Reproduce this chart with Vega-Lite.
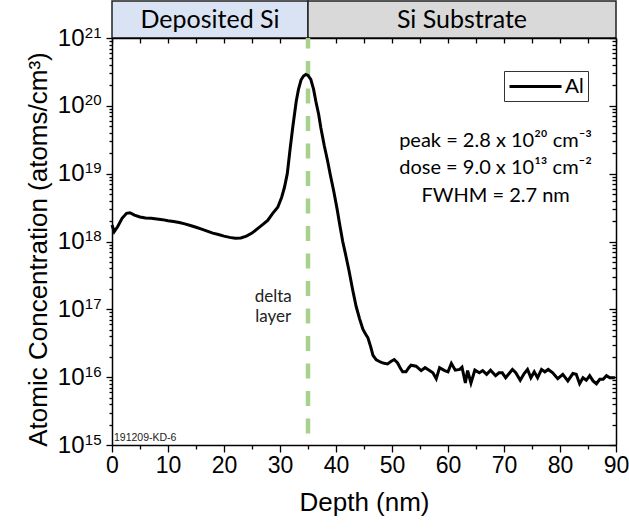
{
  "$schema": "https://vega.github.io/schema/vega-lite/v6.json",
  "background": "white",
  "padding": {"left": 25, "top": 0, "right": 5, "bottom": 5},
  "spacing": 0,
  "bounds": "flush",
  "resolve": {"scale": {"color": "independent"}, "legend": {"color": "independent"}},
  "config": {
    "view": {"stroke": null},
    "font": "Arial, Liberation Sans, sans-serif",
    "axis": {"domainColor": "black", "tickColor": "black", "labelColor": "black", "titleColor": "black", "domainWidth": 1.5, "tickWidth": 1.3, "grid": false, "labelFont": "Arial, Liberation Sans, sans-serif", "titleFont": "Arial, Liberation Sans, sans-serif", "titleFontWeight": "normal"}
  },
  "vconcat": [
    {
      "width": 504,
      "height": 37,
      "data": {"values": [
        {"region": "Deposited Si", "start": 0, "end": 35, "mid": 17.5},
        {"region": "Si Substrate", "start": 35, "end": 90, "mid": 62.5}
      ]},
      "layer": [
        {
          "mark": {"type": "rect", "stroke": "#222", "strokeWidth": 1.5},
          "encoding": {
            "x": {"field": "start", "type": "quantitative", "scale": {"domain": [0, 90], "nice": false}, "axis": null},
            "x2": {"field": "end"},
            "color": {"field": "region", "type": "nominal", "scale": {"domain": ["Deposited Si", "Si Substrate"], "range": ["#dae3f3", "#d9d9d9"]}, "legend": null}
          }
        },
        {
          "mark": {"type": "text", "font": "Lato", "fontSize": 25, "color": "black"},
          "encoding": {
            "x": {"field": "mid", "type": "quantitative", "scale": {"domain": [0, 90], "nice": false}, "axis": null},
            "text": {"field": "region"}
          }
        }
      ]
    },
    {
      "width": 504,
      "height": 407,
      "resolve": {"axis": {"x": "independent", "y": "independent"}},
      "layer": [
        {
          "data": {"values": [{"depth": 35}]},
          "mark": {"type": "rule", "color": "#a9d18e", "strokeWidth": 4.5, "strokeDash": [15, 12.5], "strokeDashOffset": 4.5},
          "encoding": {
            "x": {"field": "depth", "type": "quantitative", "scale": {"domain": [0, 90], "nice": false},
              "axis": {"orient": "top", "values": [0,5,10,15,20,25,30,35,40,45,50,55,60,65,70,75,80,85,90], "labels": false, "tickSize": -5, "title": null}}
          }
        },
        {
          "data": {"values": [
            {"depth": 0.0, "conc": 1.75e18}, {"depth": 0.4, "conc": 1.4e18}, {"depth": 1.0, "conc": 1.65e18},
            {"depth": 1.8, "conc": 2.2e18}, {"depth": 2.6, "conc": 2.6e18}, {"depth": 3.2, "conc": 2.65e18},
            {"depth": 4.0, "conc": 2.45e18}, {"depth": 5.0, "conc": 2.3e18}, {"depth": 6.0, "conc": 2.22e18},
            {"depth": 7.0, "conc": 2.2e18}, {"depth": 8.0, "conc": 2.15e18}, {"depth": 9.0, "conc": 2.1e18},
            {"depth": 10.0, "conc": 2.02e18}, {"depth": 11.0, "conc": 1.97e18}, {"depth": 12.0, "conc": 1.9e18},
            {"depth": 13.0, "conc": 1.82e18}, {"depth": 14.0, "conc": 1.72e18}, {"depth": 15.0, "conc": 1.62e18},
            {"depth": 16.0, "conc": 1.52e18}, {"depth": 17.0, "conc": 1.42e18}, {"depth": 18.0, "conc": 1.33e18},
            {"depth": 19.0, "conc": 1.27e18}, {"depth": 20.0, "conc": 1.2e18}, {"depth": 21.0, "conc": 1.15e18},
            {"depth": 22.0, "conc": 1.12e18}, {"depth": 23.0, "conc": 1.13e18}, {"depth": 24.0, "conc": 1.2e18},
            {"depth": 25.0, "conc": 1.33e18}, {"depth": 26.0, "conc": 1.55e18}, {"depth": 27.0, "conc": 1.8e18},
            {"depth": 27.8, "conc": 2.05e18}, {"depth": 28.7, "conc": 2.6e18}, {"depth": 29.6, "conc": 3.2e18},
            {"depth": 30.3, "conc": 4.5e18}, {"depth": 30.8, "conc": 6.3e18}, {"depth": 31.3, "conc": 1.0e19},
            {"depth": 31.8, "conc": 2.3e19}, {"depth": 32.3, "conc": 5.0e19}, {"depth": 32.9, "conc": 1.17e20},
            {"depth": 33.3, "conc": 1.75e20}, {"depth": 33.75, "conc": 2.4e20}, {"depth": 34.2, "conc": 2.75e20},
            {"depth": 34.6, "conc": 2.9e20}, {"depth": 35.0, "conc": 2.8e20}, {"depth": 35.5, "conc": 2.45e20},
            {"depth": 36.0, "conc": 1.75e20}, {"depth": 36.4, "conc": 1.17e20}, {"depth": 36.9, "conc": 7.5e19},
            {"depth": 37.3, "conc": 4.7e19}, {"depth": 37.9, "conc": 2.6e19}, {"depth": 38.5, "conc": 1.54e19},
            {"depth": 39.0, "conc": 9.5e18}, {"depth": 39.6, "conc": 5.5e18}, {"depth": 40.2, "conc": 3.0e18},
            {"depth": 40.7, "conc": 1.7e18}, {"depth": 41.2, "conc": 1.0e18}, {"depth": 41.7, "conc": 6.5e17},
            {"depth": 42.3, "conc": 3.8e17}, {"depth": 43.0, "conc": 1.9e17}, {"depth": 43.6, "conc": 1.1e17},
            {"depth": 44.2, "conc": 7.3e16}, {"depth": 44.8, "conc": 5.1e16}, {"depth": 45.3, "conc": 4.3e16},
            {"depth": 45.7, "conc": 3.8e16}, {"depth": 46.2, "conc": 2.8e16}, {"depth": 46.6, "conc": 2.1e16},
            {"depth": 47.2, "conc": 1.8e16}, {"depth": 48.0, "conc": 1.66e16}, {"depth": 48.6, "conc": 1.6e16},
            {"depth": 49.2, "conc": 1.57e16}, {"depth": 49.8, "conc": 1.7e16}, {"depth": 50.4, "conc": 1.82e16},
            {"depth": 51.0, "conc": 1.62e16}, {"depth": 51.5, "conc": 1.35e16}, {"depth": 51.9, "conc": 1.2e16},
            {"depth": 52.5, "conc": 1.2e16}, {"depth": 53.0, "conc": 1.38e16}, {"depth": 53.4, "conc": 1.5e16},
            {"depth": 54.3, "conc": 1.45e16}, {"depth": 55.2, "conc": 1.25e16}, {"depth": 55.9, "conc": 1.38e16},
            {"depth": 56.7, "conc": 1.25e16}, {"depth": 57.3, "conc": 1.16e16}, {"depth": 57.9, "conc": 0.95e16},
            {"depth": 58.5, "conc": 1.38e16}, {"depth": 59.4, "conc": 1.25e16}, {"depth": 60.0, "conc": 1.2e16},
            {"depth": 60.6, "conc": 1.6e16}, {"depth": 61.3, "conc": 1.27e16}, {"depth": 62.1, "conc": 1.3e16},
            {"depth": 62.5, "conc": 1.4e16}, {"depth": 63.1, "conc": 0.82e16}, {"depth": 63.5, "conc": 1.25e16},
            {"depth": 64.1, "conc": 0.82e16}, {"depth": 64.8, "conc": 1.27e16}, {"depth": 65.6, "conc": 1.16e16},
            {"depth": 66.2, "conc": 1.25e16}, {"depth": 66.9, "conc": 1.1e16}, {"depth": 67.6, "conc": 1.27e16},
            {"depth": 68.5, "conc": 1.05e16}, {"depth": 69.1, "conc": 1.16e16}, {"depth": 69.7, "conc": 1.16e16},
            {"depth": 70.3, "conc": 0.98e16}, {"depth": 71.5, "conc": 1.3e16}, {"depth": 72.1, "conc": 1.16e16},
            {"depth": 72.9, "conc": 0.9e16}, {"depth": 73.6, "conc": 1.13e16}, {"depth": 74.2, "conc": 1.3e16},
            {"depth": 74.8, "conc": 0.98e16}, {"depth": 75.4, "conc": 1.2e16}, {"depth": 76.0, "conc": 0.98e16},
            {"depth": 76.7, "conc": 1.3e16}, {"depth": 77.3, "conc": 1.2e16}, {"depth": 77.9, "conc": 1.3e16},
            {"depth": 78.7, "conc": 1.16e16}, {"depth": 79.6, "conc": 0.95e16}, {"depth": 80.5, "conc": 1.1e16},
            {"depth": 81.4, "conc": 0.88e16}, {"depth": 82.3, "conc": 1.13e16}, {"depth": 82.9, "conc": 1.1e16},
            {"depth": 83.5, "conc": 0.8e16}, {"depth": 84.1, "conc": 0.98e16}, {"depth": 84.7, "conc": 0.9e16},
            {"depth": 85.3, "conc": 1.05e16}, {"depth": 85.9, "conc": 0.88e16}, {"depth": 86.5, "conc": 0.8e16},
            {"depth": 87.1, "conc": 0.93e16}, {"depth": 87.7, "conc": 0.93e16}, {"depth": 88.3, "conc": 1.05e16},
            {"depth": 88.9, "conc": 0.98e16}, {"depth": 89.8, "conc": 0.98e16}
          ]},
          "mark": {"type": "line", "strokeWidth": 3},
          "encoding": {
            "x": {"field": "depth", "type": "quantitative", "scale": {"domain": [0, 90], "nice": false},
              "axis": {"orient": "bottom", "values": [0,5,10,15,20,25,30,35,40,45,50,55,60,65,70,75,80,85,90],
                "labelExpr": "datum.value % 10 === 0 ? datum.label : ''",
                "tickSize": {"condition": {"test": "datum.value % 10 === 0", "value": 7}, "value": 4},
                "labelFontSize": 23, "labelPadding": 2, "labelFlush": false, "labelOverlap": false, "labelBound": false,
                "title": "Depth (nm)", "titleFontSize": 26, "titlePadding": 12}},
            "y": {"field": "conc", "type": "quantitative", "scale": {"type": "log", "domain": [1e15, 1e21], "nice": false},
              "axis": {"orient": "left",
                "values": [1e15,2e15,3e15,4e15,5e15,6e15,7e15,8e15,9e15,1e16,2e16,3e16,4e16,5e16,6e16,7e16,8e16,9e16,1e17,2e17,3e17,4e17,5e17,6e17,7e17,8e17,9e17,1e18,2e18,3e18,4e18,5e18,6e18,7e18,8e18,9e18,1e19,2e19,3e19,4e19,5e19,6e19,7e19,8e19,9e19,1e20,2e20,3e20,4e20,5e20,6e20,7e20,8e20,9e20,1e21],
                "labelExpr": "abs(log(datum.value)/LN10 - round(log(datum.value)/LN10)) < 0.001 ? '10' : ''",
                "tickSize": {"condition": {"test": "abs(log(datum.value)/LN10 - round(log(datum.value)/LN10)) < 0.001", "value": 6}, "value": 3},
                "labelFontSize": 24, "labelPadding": 22, "labelFlush": false, "labelOverlap": false, "labelBound": false,
                "title": "Atomic Concentration (atoms/cm³)", "titleFontSize": 26, "titlePadding": 6, "titleY": 211}},
            "color": {"datum": "Al", "type": "nominal", "scale": {"domain": ["Al"], "range": ["black"]},
              "legend": {"orient": "none", "legendX": 392, "legendY": 33, "title": null, "strokeColor": "#333", "fillColor": "white",
                "padding": 4, "symbolType": "M-2.6,0H2.6", "symbolSize": 400, "symbolStrokeWidth": 3, "symbolOffset": 16,
                "labelFontSize": 21, "labelFont": "Arial, Liberation Sans, sans-serif", "labelColor": "black", "labelOffset": 18}}
          }
        },
        {
          "data": {"values": [
            {"label": "peak = 2.8 x 10²⁰ cm⁻³", "depth": 68.5, "conc": 3.03e19},
            {"label": "dose = 9.0 x 10¹³ cm⁻²", "depth": 68.5, "conc": 1.21e19},
            {"label": "FWHM = 2.7 nm", "depth": 68.5, "conc": 4.69e18}
          ]},
          "mark": {"type": "text", "font": "Lato", "fontSize": 20, "color": "black", "align": "center", "baseline": "middle"},
          "encoding": {
            "x": {"field": "depth", "type": "quantitative", "scale": {"domain": [0, 90], "nice": false}, "axis": null},
            "y": {"field": "conc", "type": "quantitative", "scale": {"type": "log", "domain": [1e15, 1e21], "nice": false},
              "axis": {"orient": "right",
                "values": [1e15,2e15,3e15,4e15,5e15,6e15,7e15,8e15,9e15,1e16,2e16,3e16,4e16,5e16,6e16,7e16,8e16,9e16,1e17,2e17,3e17,4e17,5e17,6e17,7e17,8e17,9e17,1e18,2e18,3e18,4e18,5e18,6e18,7e18,8e18,9e18,1e19,2e19,3e19,4e19,5e19,6e19,7e19,8e19,9e19,1e20,2e20,3e20,4e20,5e20,6e20,7e20,8e20,9e20,1e21],
                "labels": false, "title": null,
                "tickSize": {"condition": {"test": "abs(log(datum.value)/LN10 - round(log(datum.value)/LN10)) < 0.001", "value": -7}, "value": -4}}},
            "text": {"field": "label"}
          }
        },
        {
          "data": {"values": [
            {"label": "delta", "depth": 28.8, "conc": 1.52e17},
            {"label": "layer", "depth": 28.8, "conc": 7.7e16}
          ]},
          "mark": {"type": "text", "font": "Lato", "fontSize": 17, "color": "#222", "align": "center", "baseline": "middle"},
          "encoding": {
            "x": {"field": "depth", "type": "quantitative", "scale": {"domain": [0, 90], "nice": false}, "axis": null},
            "y": {"field": "conc", "type": "quantitative", "scale": {"type": "log", "domain": [1e15, 1e21], "nice": false},
              "axis": {"orient": "left", "values": [1e15, 1e16, 1e17, 1e18, 1e19, 1e20, 1e21],
                "labelExpr": "'' + round(log(datum.value)/LN10)",
                "ticks": false, "tickSize": 0, "domain": false, "title": null,
                "labelFontSize": 15, "labelPadding": 11, "labelOffset": -6,
                "labelFlush": false, "labelOverlap": false, "labelBound": false}},
            "text": {"field": "label"}
          }
        },
        {
          "data": {"values": [{"label": "191209-KD-6", "depth": 0.35, "conc": 1.27e15}]},
          "mark": {"type": "text", "font": "Arial, Liberation Sans, sans-serif", "fontSize": 10.5, "color": "#222", "align": "left", "baseline": "middle"},
          "encoding": {
            "x": {"field": "depth", "type": "quantitative", "scale": {"domain": [0, 90], "nice": false}, "axis": null},
            "y": {"field": "conc", "type": "quantitative", "scale": {"type": "log", "domain": [1e15, 1e21], "nice": false}, "axis": null},
            "text": {"field": "label"}
          }
        }
      ]
    }
  ]
}
